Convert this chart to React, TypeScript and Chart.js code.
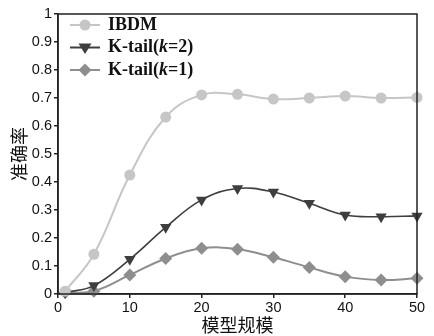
import React, { useEffect, useRef } from 'react';
import { Chart, registerables } from 'chart.js';
Chart.register(...registerables);

const xValues = [1, 5, 10, 15, 20, 25, 30, 35, 40, 45, 50];
const ibdm = [0.01, 0.142, 0.425, 0.632, 0.711, 0.713, 0.696, 0.7, 0.707, 0.7, 0.702];
const ktail2 = [0.005, 0.03, 0.124, 0.238, 0.336, 0.377, 0.364, 0.324, 0.282, 0.276, 0.279];
const ktail1 = [0.005, 0.01, 0.068, 0.127, 0.163, 0.16, 0.131, 0.095, 0.062, 0.05, 0.056];
const seriesNames = ['IBDM', 'K-tail(k=2)', 'K-tail(k=1)'];
const xTitle = '模型规模';
const yTitle = '准确率';

const C_IBDM = '#c6c6c6';
const C_K2 = '#3e3e3e';
const C_K1 = '#8e8e8e';

function drawMarker(ctx: CanvasRenderingContext2D, kind: string, x: number, y: number, r: number, color: string) {
  ctx.save();
  ctx.fillStyle = color;
  ctx.beginPath();
  if (kind === 'circle') {
    ctx.arc(x, y, r, 0, Math.PI * 2);
  } else if (kind === 'tri') {
    ctx.moveTo(x - r, y - r * 0.6);
    ctx.lineTo(x + r, y - r * 0.6);
    ctx.lineTo(x, y + r);
    ctx.closePath();
  } else {
    ctx.moveTo(x, y - r);
    ctx.lineTo(x + r, y);
    ctx.lineTo(x, y + r);
    ctx.lineTo(x - r, y);
    ctx.closePath();
  }
  ctx.fill();
  ctx.restore();
}

const frameLegendPlugin = {
  id: 'frameLegend',
  afterDraw(chart: any) {
    const { ctx, chartArea: a } = chart;
    ctx.save();
    ctx.strokeStyle = '#222';
    ctx.lineWidth = 1.5;
    ctx.strokeRect(a.left, a.top, a.right - a.left, a.bottom - a.top);
    const rows = [
      { color: C_IBDM, kind: 'circle', r: 5.5, lw: 2 },
      { color: C_K2, kind: 'tri', r: 6.5, lw: 2 },
      { color: C_K1, kind: 'diamond', r: 6.5, lw: 2 },
    ];
    const x0 = a.left + 12;
    const x1 = a.left + 42;
    const tx = a.left + 50;
    const f = '18px "Liberation Serif"';
    rows.forEach((row, i) => {
      const y = a.top + 11 + i * 22.5;
      ctx.strokeStyle = row.color;
      ctx.lineWidth = row.lw;
      ctx.beginPath();
      ctx.moveTo(x0, y);
      ctx.lineTo(x1, y);
      ctx.stroke();
      drawMarker(ctx, row.kind, (x0 + x1) / 2, y, row.r, row.color);
      ctx.fillStyle = '#111';
      ctx.textBaseline = 'middle';
      ctx.textAlign = 'left';
      const name = seriesNames[i];
      const m = name.match(/^(.*\()(k)(=.*)$/);
      if (m) {
        let cx = tx;
        ctx.font = 'bold ' + f;
        ctx.fillText(m[1], cx, y);
        cx += ctx.measureText(m[1]).width;
        ctx.font = 'italic bold ' + f;
        ctx.fillText(m[2], cx, y);
        cx += ctx.measureText(m[2]).width;
        ctx.font = 'bold ' + f;
        ctx.fillText(m[3], cx, y);
      } else {
        ctx.font = 'bold ' + f;
        ctx.fillText(name, tx, y);
      }
    });
    ctx.restore();
  },
};

export default function App() {
  const ref = useRef<HTMLCanvasElement>(null);
  useEffect(() => {
    document.body.style.margin = '0';
    const tickFont = { family: '"Liberation Sans", Arial, sans-serif', size: 14.5 };
    const titleFont = { family: '"Noto Sans CJK SC", sans-serif', size: 18 };
    const chart = new Chart(ref.current!, {
      type: 'line',
      data: {
        datasets: [
          {
            label: seriesNames[0],
            data: xValues.map((x, i) => ({ x, y: ibdm[i] })),
            borderColor: C_IBDM,
            backgroundColor: C_IBDM,
            borderWidth: 2,
            pointStyle: 'circle',
            pointRadius: 5.5,
            pointBorderWidth: 0,
            tension: 0.4,
          },
          {
            label: seriesNames[1],
            data: xValues.map((x, i) => ({ x, y: ktail2[i] })),
            borderColor: C_K2,
            backgroundColor: C_K2,
            borderWidth: 1.6,
            pointStyle: 'triangle',
            pointRotation: 180,
            pointRadius: 6.5,
            pointBorderWidth: 0,
            tension: 0.4,
          },
          {
            label: seriesNames[2],
            data: xValues.map((x, i) => ({ x, y: ktail1[i] })),
            borderColor: C_K1,
            backgroundColor: C_K1,
            borderWidth: 2,
            pointStyle: 'rectRot',
            pointRadius: 6.5,
            pointBorderWidth: 0,
            tension: 0.4,
          },
        ],
      },
      options: {
        animation: false,
        responsive: false,
        maintainAspectRatio: false,
        clip: false as any,
        layout: { padding: { top: 14, right: 17, left: 0, bottom: 0 } },
        plugins: { legend: { display: false }, tooltip: { enabled: false } },
        scales: {
          x: {
            type: 'linear',
            min: 0,
            max: 50,
            afterFit: (s: any) => { s.height = 42; },
            ticks: { stepSize: 10, color: '#111', font: tickFont, padding: 1, maxRotation: 0 },
            grid: { display: true, drawOnChartArea: false, drawTicks: true, tickLength: 4, color: '#222', lineWidth: 1.5 },
            border: { display: true, color: '#222', width: 1.5 },
            title: {
              display: true,
              text: xTitle,
              color: '#111',
              font: titleFont,
              padding: { top: 0, bottom: 0 },
            },
          },
          y: {
            min: 0,
            max: 1,
            afterFit: (s: any) => { s.width = 58; },
            ticks: {
              stepSize: 0.1,
              color: '#111',
              font: tickFont,
              padding: 2,
              callback: (v: any) => String(Math.round(Number(v) * 10) / 10),
            },
            grid: { display: true, drawOnChartArea: false, drawTicks: true, tickLength: 4, color: '#222', lineWidth: 1.5 },
            border: { display: true, color: '#222', width: 1.5 },
            title: {
              display: true,
              text: yTitle,
              color: '#111',
              font: titleFont,
              padding: { top: 8, bottom: 0 },
            },
          },
        },
      },
      plugins: [frameLegendPlugin],
    });
    return () => chart.destroy();
  }, []);
  return (
    <div style={{ width: 434, height: 336 }}>
      <canvas ref={ref} width={434} height={336} style={{ width: 434, height: 336 }} />
    </div>
  );
}
